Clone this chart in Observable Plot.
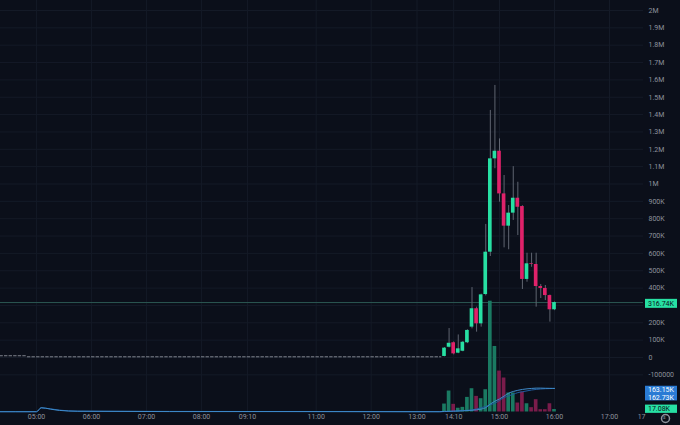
<!DOCTYPE html>
<html>
<head>
<meta charset="utf-8">
<script src="https://cdn.jsdelivr.net/npm/d3@7"></script>
<script src="https://cdn.jsdelivr.net/npm/@observablehq/plot@0.6"></script>
<style>
  html, body { margin: 0; padding: 0; background: #0b0f1a; }
  #chart { position: relative; width: 680px; height: 425px; overflow: hidden; background: #0b0f1a; }
  #chart svg { position: absolute; left: 0; top: 0; }
</style>
</head>
<body>
<div id="chart"></div>
<script>
// 5 minute candles from 14:00 to 16:00, prices in thousands
const candleTimes = ["14:00","14:05","14:10","14:15","14:20","14:25","14:30","14:35","14:40","14:45","14:50","14:55",
  "15:00","15:05","15:10","15:15","15:20","15:25","15:30","15:35","15:40","15:45","15:50","15:55","16:00"]
const opens  = [6, 59, 85, 25, 36, 85, 175, 281, 194, 363, 607, 1145, 1189, 943, 757, 832, 918, 870, 450, 541, 536, 409, 398, 357, 275]
const closes = [54, 82, 21, 50, 88, 156, 281, 194, 361, 607, 1145, 1189, 943, 757, 832, 918, 866, 450, 540, 537, 409, 398, 357, 275, 316.74]
const highs  = [57, 167, 90, 130, 92, 160, 403, 290, 365, 767, 1424, 1568, 1260, 1049, 876, 1100, 1010, 875, 601, 601, 601, 421, 415, 360, 320]
const lows   = [4, 55, 15, 22, 33, 80, 165, 146, 175, 355, 582, 1088, 895, 632, 621, 790, 703, 392, 434, 520, 290, 340, 328, 204, 270]
const volumes = [55, 145, 53, 26, 32, 101, 161, 108, 92, 154, 766, 453, 283, 235, 131, 131, 62, 138, 57, 30, 85, 16, 16, 57, 17.08]

// quiet session before 14:00 (bar index relative to the 14:00 candle)
const preStart = [-97, -91]
const preEnd = [-91, -0.6]
const preLevel = [10, 4]

// volume moving averages (thousands)
const maIdx  = [-97, -90, -89, -88, -86, -84, -80, -60, -30, -1, 0, 2, 4, 6, 8, 9, 10, 11, 12, 13, 14, 15, 16, 17, 18, 19, 20, 21, 22, 23, 24]
const maFast = [2, 2, 2, 30, 20, 11, 5, 3, 3, 2, 4, 6, 8, 12, 20, 30, 55, 75, 90, 110, 130, 142, 150, 156, 160, 163, 165, 165, 164, 163.5, 163.15]
const maSlow = [2, 2, 2, 28, 22, 13, 6, 4, 3, 2, 3, 5, 10, 14, 30, 38, 50, 61, 80, 100, 112, 122, 134, 140, 146, 152, 156, 159, 161, 162, 162.73]

// axes (the 300K label sits under the last price tag)
const timeTicks = [-89, -77, -65, -53, -43, -28, -16, -6, 2, 12, 24, 36, 43]
const timeLabels = ["05:00","06:00","07:00","08:00","09:10","11:00","12:00","13:00","14:10","15:00","16:00","17:00","17"]
const priceTicks = [2000, 1900, 1800, 1700, 1600, 1500, 1400, 1300, 1200, 1100, 1000, 900, 800, 700, 600, 500, 400, 300, 200, 100, 0, -100]
const priceLabels = ["2M","1.9M","1.8M","1.7M","1.6M","1.5M","1.4M","1.3M","1.2M","1.1M","1M","900K","800K","700K","600K","500K","400K","","200K","100K","0","-100000"]

const lastPrice = 316.74, lastPriceLabel = "316.74K"
const maFastLabel = "163.15K", maSlowLabel = "162.73K", lastVolLabel = "17.08K"

const up = "#27e0a3", down = "#e0226a"
const volUp = "#1a7a62", volDown = "#7a1c4b"
const bg = "#0b0f1a", axisText = "#8d929c", gridColor = "#141a27"

const candles = candleTimes.map((t, i) => ({
  i, t, open: opens[i], close: closes[i], high: highs[i], low: lows[i], vol: volumes[i]
}))
const ma = maIdx.map((i, k) => ({i, fast: maFast[k], slow: maSlow[k]}))

const xStep = 110 / 24
const xAt = px => (px - 444) / xStep // pixel -> bar index, for the side labels

const base = {
  width: 680, height: 425,
  marginLeft: 0, marginRight: 37, marginTop: 0, marginBottom: 14,
  style: {background: "transparent", fontFamily: "Roboto, 'DejaVu Sans', sans-serif"},
  x: {type: "linear", domain: [0, 24], range: [444, 554], axis: null},
  color: {type: "identity"}
}
const priceY = {domain: [0, 2000], range: [357, 10], axis: null}
const volY = {domain: [0, 766], range: [411.5, 300.7], axis: null}

// layer 1: grid, axes, quiet session, last price line
const gridPlot = Plot.plot({
  ...base,
  y: priceY,
  marks: [
    Plot.ruleY(priceTicks, {stroke: gridColor}),
    Plot.ruleX(timeTicks.slice(0, -1), {stroke: gridColor}),
    Plot.text(priceTicks, {y: d => d, text: (d, i) => priceLabels[i], frameAnchor: "right", dx: 5,
      textAnchor: "start", fill: axisText, fontSize: 7}),
    Plot.text(timeTicks, {x: d => d, text: (d, i) => timeLabels[i], frameAnchor: "bottom", dy: 7,
      fill: axisText, fontSize: 7}),
    Plot.ruleY(preLevel, {y: d => d, x1: (d, i) => preStart[i], x2: (d, i) => preEnd[i],
      stroke: "#80858f", strokeDasharray: "3.4,1.18"}),
    Plot.ruleY([lastPrice], {stroke: "#2b5652"})
  ]
})

// layer 2: volume and its moving averages
const volPlot = Plot.plot({
  ...base,
  y: volY,
  marks: [
    Plot.rectY(candles, {x1: d => d.i - 0.4, x2: d => d.i + 0.4, y: "vol",
      fill: d => d.close >= d.open ? volUp : volDown}),
    Plot.line(ma, {x: "i", y: "slow", stroke: "#1f5c9e", strokeWidth: 1, curve: "monotone-x"}),
    Plot.line(ma, {x: "i", y: "fast", stroke: "#3f8bcb", strokeWidth: 1, curve: "monotone-x"}),
    Plot.ruleY([maFast[maFast.length - 1]], {x1: xAt(645), x2: xAt(677), stroke: "#2a7bd4", strokeWidth: 14.7, dy: 4.7}),
    Plot.text([maFast[maFast.length - 1]], {y: d => d, x: xAt(647.5), text: [maFastLabel], textAnchor: "start",
      fill: "#ffffff", fontSize: 7, dy: 1.2}),
    Plot.text([maSlow[maSlow.length - 1]], {y: d => d, x: xAt(647.5), text: [maSlowLabel], textAnchor: "start",
      fill: "#ffffff", fontSize: 7, dy: 9}),
    Plot.ruleY([volumes[volumes.length - 1]], {x1: xAt(645), x2: xAt(677), stroke: up, strokeWidth: 8.3, dy: -0.8}),
    Plot.text([volumes[volumes.length - 1]], {y: d => d, x: xAt(647.5), text: [lastVolLabel], textAnchor: "start",
      fill: bg, fontSize: 7, dy: -0.8})
  ]
})

// layer 3: candles and last price label
const pricePlot = Plot.plot({
  ...base,
  y: priceY,
  marks: [
    Plot.ruleX(candles, {x: "i", y1: "low", y2: "high", stroke: "#5f6470"}),
    Plot.rect(candles, {x1: d => d.i - 0.4, x2: d => d.i + 0.4, y1: "open", y2: "close",
      fill: d => d.close >= d.open ? up : down}),
    Plot.ruleY([lastPrice], {x1: xAt(645), x2: xAt(677), stroke: up, strokeWidth: 9, dy: 0.8}),
    Plot.text([lastPrice], {y: d => d, x: xAt(647.5), text: [lastPriceLabel], textAnchor: "start",
      fill: bg, fontSize: 7, dy: 0.8}),
    Plot.dot([0], {frameAnchor: "bottom-right", dx: 22, dy: 7, r: 4, stroke: axisText, fill: "none"}),
    Plot.text(["s"], {frameAnchor: "bottom-right", dx: 22, dy: 7, fill: axisText, fontSize: 5})
  ]
})

const chart = d3.select("#chart")
chart.append(() => gridPlot)
chart.append(() => volPlot)
chart.append(() => pricePlot)
</script>
</body>
</html>
